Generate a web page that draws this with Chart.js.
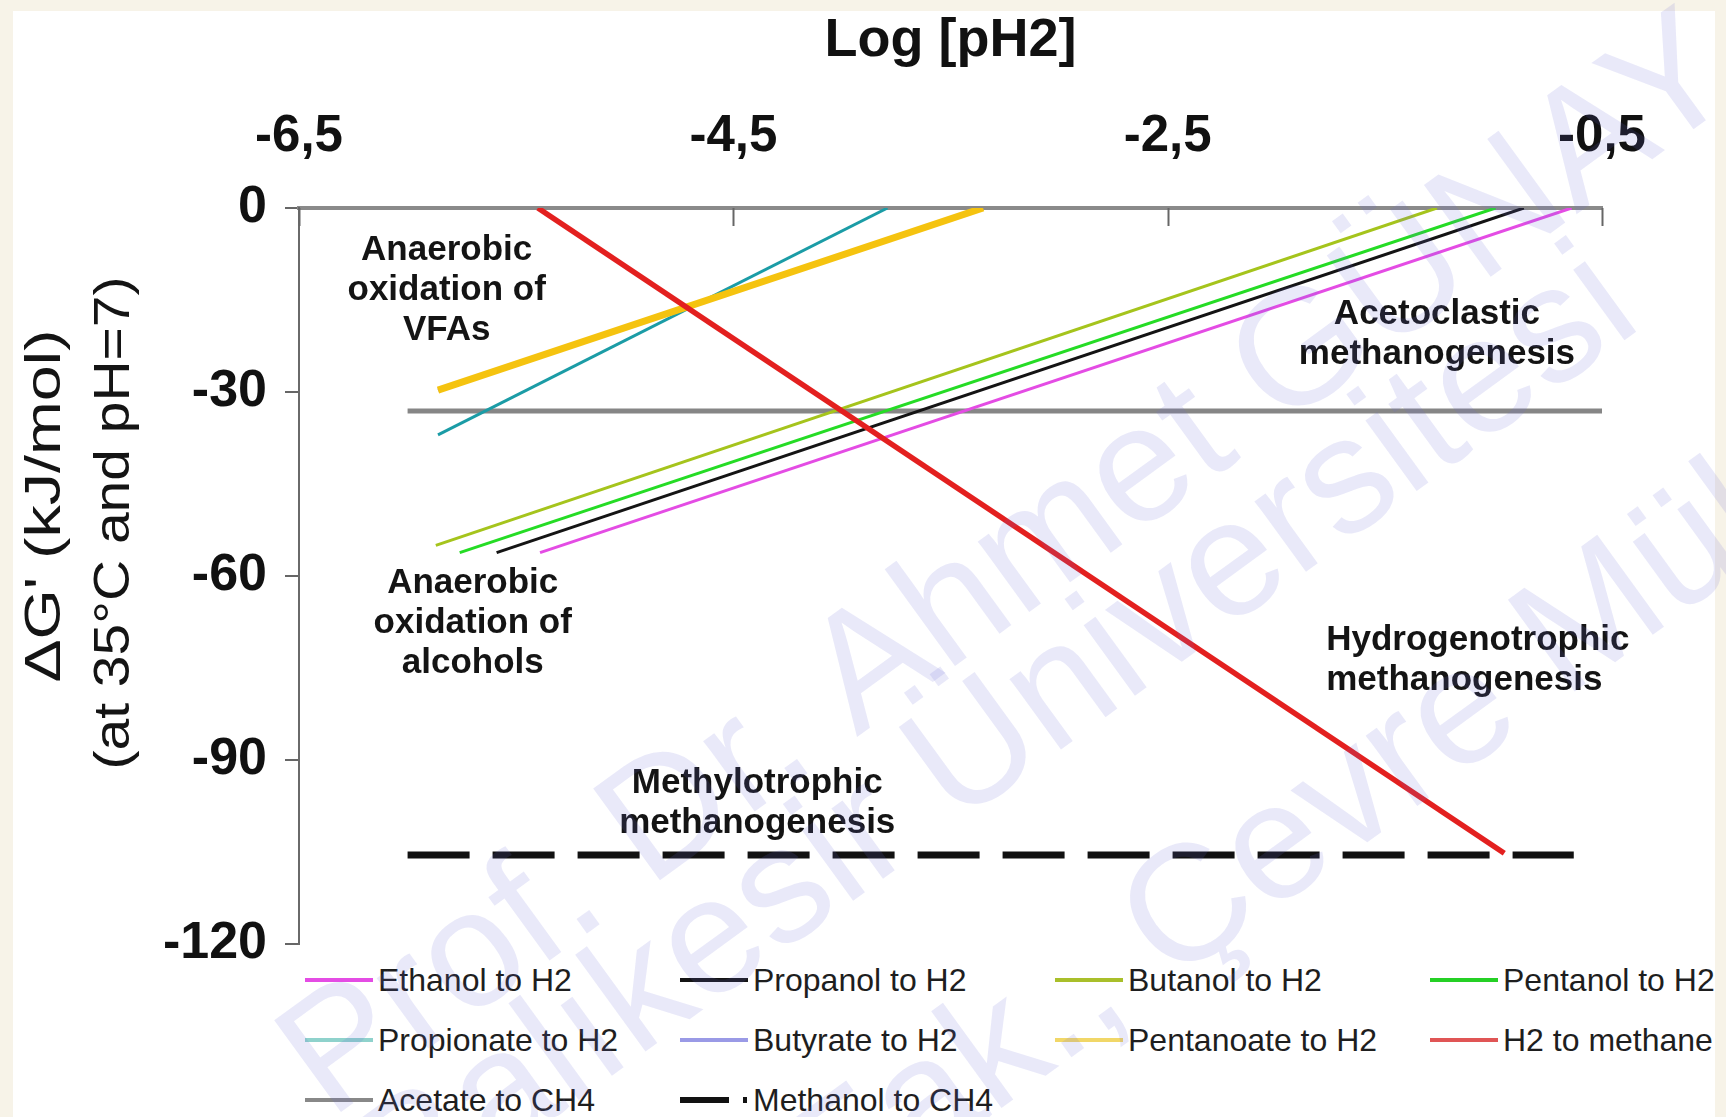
<!DOCTYPE html>
<html>
<head>
<meta charset="utf-8">
<script src="https://cdn.jsdelivr.net/npm/chart.js@4.4.0/dist/chart.umd.min.js"></script>
<style>
html,body{margin:0;padding:0;width:1726px;height:1117px;overflow:hidden;background:#f7f3e8;font-family:"Liberation Sans",Arial,sans-serif;}
#frame{position:absolute;left:13px;top:11px;width:1702px;height:1106px;background:#ffffff;}
#legend{position:absolute;left:305px;top:950px;display:grid;grid-template-columns:repeat(4,375px);grid-auto-rows:60px;}
.item{display:flex;align-items:center;font-size:32px;color:#1e1e1e;white-space:nowrap;}
.item svg{flex:none;margin-right:5px;}
#c{position:absolute;left:0;top:0;}
</style>
</head>
<body>
<div id="frame"></div>
<div id="legend"></div>
<canvas id="c" width="1726" height="1117"></canvas>
<script>
// ---------- data (x = Log[pH2], y = ΔG' in kJ/mol; start and end of each line) ----------
const seriesLabels = ['Ethanol to H2','Propanol to H2','Butanol to H2','Pentanol to H2',
                      'Propionate to H2','Butyrate to H2','Pentanoate to H2','H2 to methane',
                      'Acetate to CH4','Methanol to CH4'];

const ethanolX    = [-5.39, -0.64];  const ethanolY    = [-56.2, 0];
const propanolX   = [-5.59, -0.86];  const propanolY   = [-56.2, 0];
const butanolX    = [-5.87, -1.26];  const butanolY    = [-55.0, 0];
const pentanolX   = [-5.76, -0.99];  const pentanolY   = [-56.2, 0];
const propionateX = [-5.86, -3.79];  const propionateY = [-37.0, 0];
const butyrateX   = [-5.86, -3.35];  const butyrateY   = [-29.7, 0];
const pentanoateX = [-5.86, -3.35];  const pentanoateY = [-29.7, 0];
const h2MethaneX  = [-5.40, -0.95];  const h2MethaneY  = [0, -105.2];
const acetateX    = [-6.00, -0.50];  const acetateY    = [-33.1, -33.1];
const methanolX   = [-6.00, -0.63];  const methanolY   = [-105.5, -105.5];

const xTickValues = [-6.5, -4.5, -2.5, -0.5];
const yTickValues = [0, -30, -60, -90, -120];

const seriesX = [ethanolX, propanolX, butanolX, pentanolX, propionateX, butyrateX, pentanoateX, h2MethaneX, acetateX, methanolX];
const seriesY = [ethanolY, propanolY, butanolY, pentanolY, propionateY, butyrateY, pentanoateY, h2MethaneY, acetateY, methanolY];

// annotation texts, anchored in data units
const annotationTexts = [
  {lines:['Anaerobic','oxidation of','VFAs'], x:-5.82, y:-13.4, align:'center'},
  {lines:['Anaerobic','oxidation of','alcohols'], x:-5.70, y:-67.7, align:'center'},
  {lines:['Acetoclastic','methanogenesis'], x:-1.26, y:-20.6, align:'center'},
  {lines:['Hydrogenotrophic','methanogenesis'], x:-1.77, y:-73.7, align:'left'},
  {lines:['Methylotrophic','methanogenesis'], x:-4.39, y:-97.0, align:'center'}
];
const watermarkLines = ['Prof. Dr. Ahmet GÜNAY', 'Balıkesir Üniversitesi', 'Müh. Fak., Çevre Müh.'];

// ---------- styles ----------
const styles = [
  {color:'#e44ce4', width:3, order:2, legend:'#e44ce4'},
  {color:'#141414', width:3, order:2, legend:'#141414'},
  {color:'#a5c41c', width:3, order:2, legend:'#a9bf2a'},
  {color:'#25dc25', width:3, order:2, legend:'#25d025'},
  {color:'#1b9ca6', width:3, order:2, legend:'#8fd2cc'},
  {color:'#7070e0', width:3, order:5, legend:'#9a9ae6'},
  {color:'#f5c30f', width:7, order:1, legend:'#f1d768'},
  {color:'#e3201f', width:5.5, order:0, legend:'#e05555'},
  {color:'#868686', width:5, order:8, legend:'#888888'},
  {color:'#111111', width:7, order:9, legend:'#111111', dash:[62,23]}
];

const FONT = '"Liberation Sans", Arial, Helvetica, sans-serif';

const datasets = seriesLabels.map((label, i) => ({
  label: label,
  data: seriesX[i].map((x, k) => ({x: x, y: seriesY[i][k]})),
  borderColor: styles[i].color,
  backgroundColor: styles[i].color,
  borderWidth: styles[i].width,
  borderDash: styles[i].dash || [],
  borderCapStyle: 'butt',
  pointRadius: 0,
  pointHoverRadius: 0,
  tension: 0,
  fill: false,
  order: styles[i].order
}));

// ---------- plugins ----------
const decorPlugin = {
  id: 'decor',
  afterDraw(chart) {
    const ctx = chart.ctx;
    const xs = chart.scales.x, ys = chart.scales.y;
    const area = chart.chartArea;

    // inward tick marks on top axis
    ctx.save();
    ctx.strokeStyle = '#666';
    ctx.lineWidth = 2;
    xs.ticks.forEach(t => {
      const px = Math.round(xs.getPixelForValue(t.value)) + 0.5;
      ctx.beginPath();
      ctx.moveTo(px, area.top);
      ctx.lineTo(px, area.top + 18);
      ctx.stroke();
    });
    ctx.restore();

    // annotations
    ctx.save();
    ctx.fillStyle = '#141414';
    ctx.font = 'bold 35px ' + FONT;
    ctx.textBaseline = 'middle';
    annotationTexts.forEach(a => {
      const px = xs.getPixelForValue(a.x);
      const py = ys.getPixelForValue(a.y);
      const lh = 40;
      ctx.textAlign = a.align;
      a.lines.forEach((ln, k) => {
        ctx.fillText(ln, px, py + (k - (a.lines.length - 1) / 2) * lh);
      });
    });
    ctx.restore();

    // y axis title (two lines, rotated)
    const yTitle = [
      {text:"ΔG' (kJ/mol)", cx:46, cy:506, len:353},
      {text:'(at 35°C and pH=7)', cx:115, cy:523, len:493}
    ];
    yTitle.forEach(t => {
      ctx.save();
      ctx.font = '50px ' + FONT;
      ctx.fillStyle = '#141414';
      const w = ctx.measureText(t.text).width;
      ctx.translate(t.cx, t.cy);
      ctx.rotate(-Math.PI / 2);
      ctx.scale(t.len / w, 1);
      ctx.textAlign = 'center';
      ctx.textBaseline = 'middle';
      ctx.fillText(t.text, 0, 0);
      ctx.restore();
    });

    // watermark
    ctx.save();
    ctx.font = '165px ' + FONT;
    ctx.fillStyle = 'rgba(110,110,215,0.15)';
    const ang = 36 * Math.PI / 180;
    const nx = Math.sin(ang), ny = Math.cos(ang);
    const dx = Math.cos(ang), dy = -Math.sin(ang);
    const sx = 330, sy = 1120;
    const normalOffsets = [0, 130, 385];
    const alongOffsets = [0, 0, -66];
    watermarkLines.forEach((txt, k) => {
      ctx.save();
      ctx.translate(sx + nx * normalOffsets[k] + dx * alongOffsets[k],
                    sy + ny * normalOffsets[k] + dy * alongOffsets[k]);
      ctx.rotate(-ang);
      ctx.textAlign = 'left';
      ctx.textBaseline = 'alphabetic';
      ctx.fillText(txt, 0, 0);
      ctx.restore();
    });
    ctx.restore();
  }
};

// ---------- chart ----------
const chart = new Chart(document.getElementById('c'), {
  type: 'line',
  data: { datasets: datasets },
  options: {
    responsive: false,
    animation: false,
    devicePixelRatio: 1,
    layout: { padding: { left: 0, right: 124, top: 0, bottom: 173 } },
    plugins: {
      legend: { display: false },
      tooltip: { enabled: false },
      title: { display: false }
    },
    scales: {
      x: {
        type: 'linear',
        position: 'top',
        min: -6.5,
        max: -0.5,
        afterBuildTicks: s => { s.ticks = xTickValues.map(v => ({value: v})); },
        afterFit: s => { s.height = 208; },
        grid: { display: false, drawTicks: false },
        border: { display: true, color: '#8a8a8a', width: 4 },
        ticks: {
          color: '#111',
          font: { family: FONT, size: 51, weight: 'bold', lineHeight: 1 },
          padding: 46,
          maxRotation: 0,
          callback: v => String(v).replace('.', ',')
        },
        title: {
          display: true,
          text: 'Log [pH2]',
          color: '#111',
          font: { family: FONT, size: 54, weight: 'bold', lineHeight: 1 },
          padding: { top: 14, bottom: 0 }
        }
      },
      y: {
        type: 'linear',
        position: 'left',
        min: -120,
        max: 0,
        afterBuildTicks: s => { s.ticks = yTickValues.map(v => ({value: v})); },
        afterFit: s => { s.width = 299; },
        grid: { display: true, drawOnChartArea: false, drawTicks: true, tickLength: 14, color: '#666', lineWidth: 2 },
        border: { display: true, color: '#6a6a6a', width: 2 },
        ticks: {
          color: '#111',
          font: { family: FONT, size: 52, weight: 'bold' },
          padding: 18,
          callback: v => String(v)
        },
        title: { display: false }
      }
    }
  },
  plugins: [decorPlugin]
});

// ---------- legend (built from the chart's datasets) ----------
const legendEl = document.getElementById('legend');
chart.data.datasets.forEach((ds, i) => {
  const st = styles[i];
  const dash = st.dash ? 'stroke-dasharray="49 14 4 40"' : '';
  const sw = st.dash ? 6 : 4;
  const item = document.createElement('div');
  item.className = 'item';
  item.innerHTML = '<svg width="68" height="12"><line x1="0" y1="6" x2="68" y2="6" stroke="' + st.legend +
    '" stroke-width="' + sw + '" ' + dash + '/></svg><span></span>';
  item.querySelector('span').textContent = ds.label;
  legendEl.appendChild(item);
});
</script>
</body>
</html>
